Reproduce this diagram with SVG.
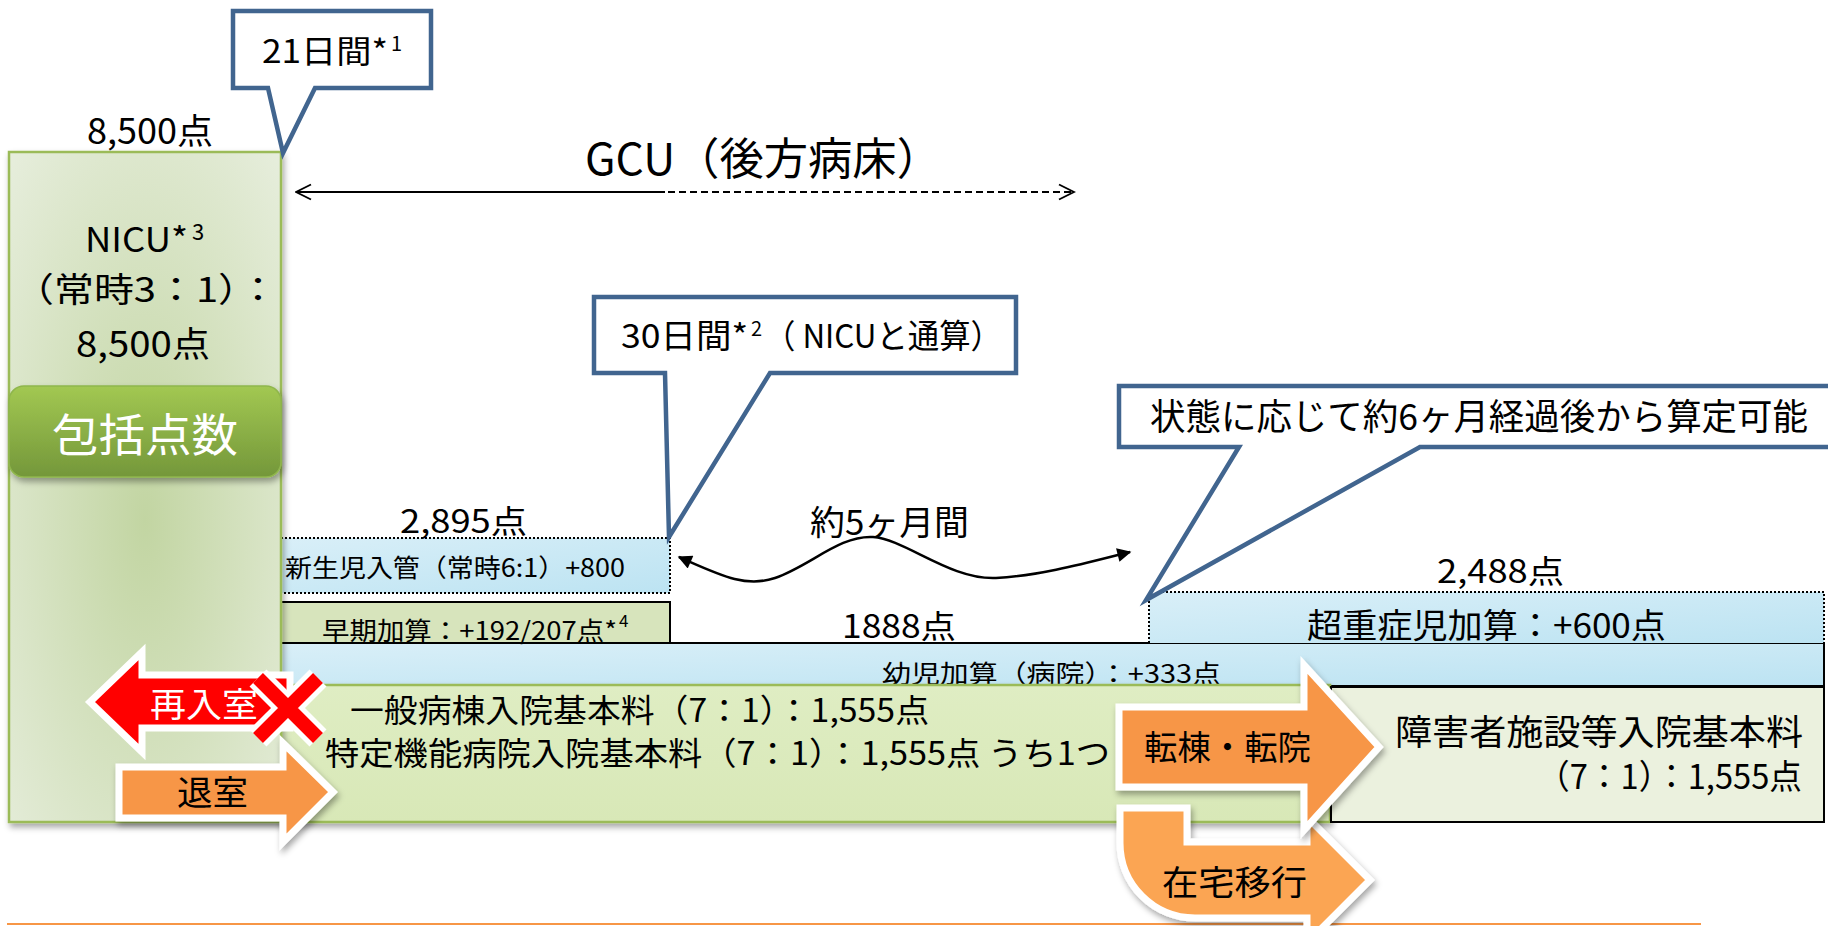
<svg xmlns="http://www.w3.org/2000/svg" width="1828" height="926" viewBox="0 0 1828 926">
<defs>
<style>
text{font-family:"Noto Sans CJK JP","Noto Sans",sans-serif;fill:#000}
.callout{fill:#fff;stroke:#41658f;stroke-width:4.5;stroke-linejoin:miter}
.dotted{stroke:#000;stroke-width:2;stroke-dasharray:2,2}
.solidbox{stroke:#000;stroke-width:2}
.warrow{stroke:#fff;stroke-width:7;stroke-linejoin:miter}
.wht{fill:#fff}
</style>
<radialGradient id="gNicu" cx="50%" cy="55%" r="75%">
<stop offset="0" stop-color="#c2d5a2"/>
<stop offset="1" stop-color="#e7eedd"/>
</radialGradient>
<linearGradient id="gBlue" x1="0" y1="0" x2="1" y2="1">
<stop offset="0" stop-color="#d9eff8"/>
<stop offset="1" stop-color="#bce3f2"/>
</linearGradient>
<linearGradient id="gBtn" x1="0" y1="0" x2="0" y2="1">
<stop offset="0" stop-color="#a2c852"/>
<stop offset="1" stop-color="#74973a"/>
</linearGradient>
<linearGradient id="gGreen" x1="0" y1="0" x2="0" y2="1">
<stop offset="0" stop-color="#dfedc3"/>
<stop offset="1" stop-color="#d8e8b7"/>
</linearGradient>
<filter id="sh" x="-10%" y="-10%" width="120%" height="130%">
<feDropShadow dx="2" dy="4" stdDeviation="3" flood-color="#000" flood-opacity="0.35"/>
</filter>
<marker id="oa" viewBox="0 0 12 12" refX="11" refY="6" markerWidth="18" markerHeight="18" markerUnits="userSpaceOnUse" orient="auto-start-reverse">
<path d="M1,1 L11,6 L1,11" fill="none" stroke="#000" stroke-width="1.3"/>
</marker>
<marker id="fa" viewBox="0 0 10 10" refX="9" refY="5" markerWidth="17" markerHeight="14" markerUnits="userSpaceOnUse" orient="auto-start-reverse">
<path d="M0,0 L10,5 L0,10 Z" fill="#000"/>
</marker>
</defs>
<rect x="0" y="0" width="1828" height="926" fill="#fff"/>

<g id="bars">
<g id="youji">
<rect x="281" y="643" width="1543" height="43" fill="url(#gBlue)" class="solidbox"/>
<text x="882" y="683" font-size="25" textLength="339" lengthAdjust="spacingAndGlyphs">幼児加算（病院）：+333点</text>
</g>
<g id="chojusho">
<rect x="1149" y="592" width="675" height="51" fill="url(#gBlue)"/>
<path d="M1149,643 V592 H1824 V643" fill="none" class="dotted"/>
<text x="1307" y="638" font-size="34" textLength="359" lengthAdjust="spacingAndGlyphs">超重症児加算：+600点</text>
</g>
<g id="shinseiji">
<rect x="281" y="538" width="389" height="55" fill="url(#gBlue)"/>
<path d="M281,538 H670 V593 H281" fill="none" class="dotted"/>
<text x="285" y="577" font-size="25" textLength="340" lengthAdjust="spacingAndGlyphs">新生児入管（常時6:1）+800</text>
</g>
<g id="soki">
<rect x="281" y="602" width="389" height="41" fill="#d7e4bc" class="solidbox"/>
<text x="322" y="640" font-size="25" textLength="295" lengthAdjust="spacingAndGlyphs">早期加算：+192/207点*</text>
<text x="619" y="627" font-size="17">4</text>
</g>
<g id="ippan">
<rect x="281" y="685" width="1049" height="137" fill="url(#gGreen)" stroke="#9bbb59" stroke-width="2.5" filter="url(#sh)"/>
<text x="350" y="722" font-size="32" textLength="579" lengthAdjust="spacingAndGlyphs">一般病棟入院基本料（7：1）：1,555点</text>
<text x="325" y="765" font-size="32" textLength="785" lengthAdjust="spacingAndGlyphs">特定機能病院入院基本料（7：1）：1,555点 うち1つ</text>
</g>
<g id="shogai">
<rect x="1331" y="687" width="493" height="135" fill="#ebf1de" class="solidbox"/>
<text x="1395" y="745" font-size="35" textLength="408" lengthAdjust="spacingAndGlyphs">障害者施設等入院基本料</text>
<text x="1537" y="789" font-size="34" textLength="265" lengthAdjust="spacingAndGlyphs">（7：1）：1,555点</text>
</g>
</g>

<g id="nicu">
<rect x="9" y="152" width="272" height="670" fill="url(#gNicu)" stroke="#9bbb59" stroke-width="2.5" filter="url(#sh)"/>
<text x="85" y="252" font-size="34" textLength="103" lengthAdjust="spacingAndGlyphs">NICU*</text>
<text x="192" y="240" font-size="22">3</text>
<text x="14" y="302" font-size="34" textLength="264" lengthAdjust="spacingAndGlyphs">（常時3：1）：</text>
<text x="76" y="357" font-size="35" textLength="134" lengthAdjust="spacingAndGlyphs">8,500点</text>
</g>
<g id="hokatsu">
<rect x="9" y="386" width="272" height="91" rx="15" ry="15" fill="url(#gBtn)" stroke="#8fb64c" stroke-width="1.5" filter="url(#sh)"/>
<text x="52" y="452" font-size="45" textLength="186" lengthAdjust="spacingAndGlyphs" class="wht">包括点数</text>
</g>

<g id="labels">
<text x="87" y="144" font-size="35" textLength="126" lengthAdjust="spacingAndGlyphs">8,500点</text>
<text x="585" y="175" font-size="44" textLength="356" lengthAdjust="spacingAndGlyphs">GCU（後方病床）</text>
<text x="400" y="533" font-size="32" textLength="127" lengthAdjust="spacingAndGlyphs">2,895点</text>
<text x="810" y="535" font-size="34" textLength="159" lengthAdjust="spacingAndGlyphs">約5ヶ月間</text>
<text x="842" y="638" font-size="32" textLength="114" lengthAdjust="spacingAndGlyphs">1888点</text>
<text x="1437" y="583" font-size="32" textLength="127" lengthAdjust="spacingAndGlyphs">2,488点</text>
</g>

<g id="connectors">
<line x1="296" y1="192" x2="665" y2="192" stroke="#000" stroke-width="2" marker-start="url(#oa)"/>
<line x1="657" y1="192" x2="1074" y2="192" stroke="#000" stroke-width="2" stroke-dasharray="7,4" marker-end="url(#oa)"/>
<path d="M679,557 C720,575 745,588 775,578 C810,566 840,535 873,537 C905,539 950,580 996,578 C1040,576 1090,562 1130,552" fill="none" stroke="#000" stroke-width="2.5" marker-start="url(#fa)" marker-end="url(#fa)"/>
<line x1="7" y1="924" x2="1701" y2="924" stroke="#f79646" stroke-width="2"/>
</g>

<g id="callout21">
<path class="callout" d="M233,11 H431 V88 H315 L283,153 L268,88 H233 Z"/>
<text x="262" y="63" font-size="32" textLength="126" lengthAdjust="spacingAndGlyphs">21日間*</text>
<text x="391" y="51" font-size="20">1</text>
</g>
<g id="callout30">
<path class="callout" d="M594,297 H1016 V373 H770 L669,537 L665,373 H594 Z"/>
<text x="621" y="348" font-size="33" textLength="127" lengthAdjust="spacingAndGlyphs">30日間*</text>
<text x="751" y="336" font-size="20">2</text>
<text x="764" y="348" font-size="33" textLength="238" lengthAdjust="spacingAndGlyphs">（ NICUと通算）</text>
</g>
<g id="callout6m">
<path class="callout" d="M1119,386 H1840 V447 H1420 L1146,600 L1239,447 H1119 Z"/>
<text x="1150" y="430" font-size="36" textLength="658" lengthAdjust="spacingAndGlyphs">状態に応じて約6ヶ月経過後から算定可能</text>
</g>

<g id="sainyushitsu">
<path class="warrow" fill="#ff0000" d="M90,702 L142,652 L142,675 L290,675 L290,728 L142,728 L142,752 Z"/>
<text x="150" y="717" font-size="34" textLength="108" lengthAdjust="spacingAndGlyphs" class="wht">再入室</text>
</g>
<g id="cross">
<path d="M258,678 L318,738 M318,678 L258,738" stroke="#fff" stroke-width="24"/>
<path d="M258,678 L318,738 M318,678 L258,738" stroke="#ff0000" stroke-width="14"/>
</g>
<g id="taishitsu">
<path class="warrow" fill="#f79646" filter="url(#sh)" d="M119,767 L283,767 L283,743 L333,792 L283,842 L283,818 L119,818 Z"/>
<text x="177" y="805" font-size="34" textLength="71" lengthAdjust="spacingAndGlyphs">退室</text>
</g>
<g id="zaitaku">
<path class="warrow" fill="#fba553" filter="url(#sh)" d="M1120,808 H1187 V842 H1307 V817 L1370,880 L1307,943 V918 H1195 A75,75 0 0 1 1120,843 Z"/>
<text x="1162" y="895" font-size="34" textLength="145" lengthAdjust="spacingAndGlyphs">在宅移行</text>
</g>
<g id="tento">
<path class="warrow" fill="#f79646" filter="url(#sh)" d="M1119,707 H1304 V665 L1379,747 L1304,830 V787 H1119 Z"/>
<text x="1144" y="760" font-size="34" textLength="167" lengthAdjust="spacingAndGlyphs">転棟・転院</text>
</g>
</svg>
